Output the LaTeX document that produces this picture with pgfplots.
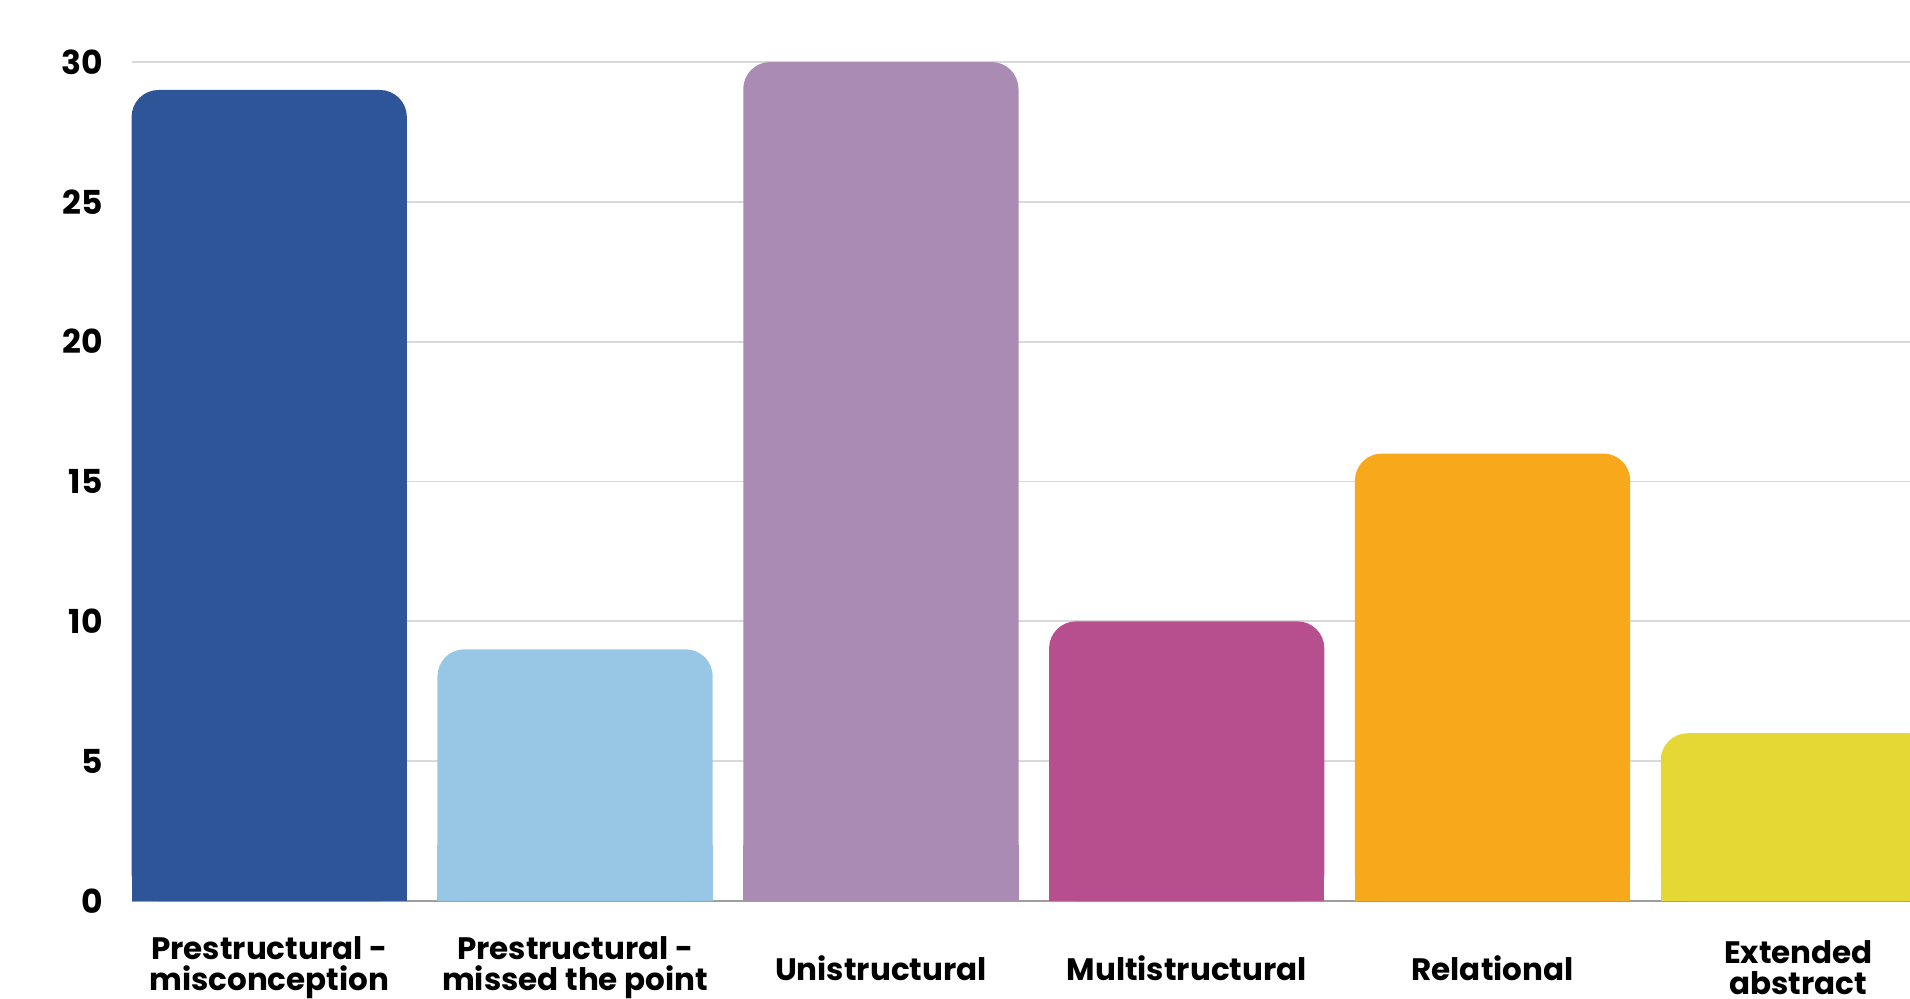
\documentclass[border=0pt]{standalone}
\usepackage{fontspec}
\setmainfont{Poppins}
\usepackage{pgfplots}
\pgfplotsset{compat=1.18}
\definecolor{cA}{HTML}{2E5597}
\definecolor{cB}{HTML}{98C7E5}
\definecolor{cC}{HTML}{AA8BB3}
\definecolor{cD}{HTML}{B74F8F}
\definecolor{cE}{HTML}{F8A81B}
\definecolor{cF}{HTML}{E6D834}
\begin{document}
\begin{tikzpicture}
\begin{axis}[
  scale only axis, width=889.2pt, height=419.5pt,
  xmin=-0.45, xmax=5.365, ymin=0, ymax=30,
  axis x line*=bottom, axis y line*=left,
  y axis line style={draw=none},
  x axis line style={draw=black!38, line width=1.2pt},
  major tick length=0pt,
  ytick={0,5,10,15,20,25,30},
  xtick={0,1,2,3,4,5},
  xticklabels={{Prestructural -\\misconception},{Prestructural -\\missed the point},{Unistructural},{Multistructural},{Relational},{Extended\\abstract}},
  ymajorgrids, grid style={draw=black!15, line width=0.9pt},
  /pgf/number format/assume math mode=true,
  yticklabel style={font=\fontsize{16.5}{18}\selectfont\bfseries, anchor=east, xshift=-14.3pt, inner sep=0pt},
  xticklabel style={font=\fontsize{15.5}{15.6}\selectfont\bfseries, align=center, anchor=center, yshift=-33.5pt, inner sep=0pt},
  clip=true,
]
\addplot[ybar, bar width=0.9, bar shift=0pt, fill=cA, draw=none, rounded corners=13.5pt] coordinates {(0,29)};
\addplot[ybar, bar width=0.9, bar shift=0pt, fill=cA, draw=none] coordinates {(0,2)};
\addplot[ybar, bar width=0.9, bar shift=0pt, fill=cB, draw=none, rounded corners=13.5pt] coordinates {(1,9)};
\addplot[ybar, bar width=0.9, bar shift=0pt, fill=cB, draw=none] coordinates {(1,2)};
\addplot[ybar, bar width=0.9, bar shift=0pt, fill=cC, draw=none, rounded corners=13.5pt] coordinates {(2,30)};
\addplot[ybar, bar width=0.9, bar shift=0pt, fill=cC, draw=none] coordinates {(2,2)};
\addplot[ybar, bar width=0.9, bar shift=0pt, fill=cD, draw=none, rounded corners=13.5pt] coordinates {(3,10)};
\addplot[ybar, bar width=0.9, bar shift=0pt, fill=cD, draw=none] coordinates {(3,2)};
\addplot[ybar, bar width=0.9, bar shift=0pt, fill=cE, draw=none, rounded corners=13.5pt] coordinates {(4,16)};
\addplot[ybar, bar width=0.9, bar shift=0pt, fill=cE, draw=none] coordinates {(4,2)};
\addplot[ybar, bar width=0.9, bar shift=0pt, fill=cF, draw=none, rounded corners=13.5pt] coordinates {(5,6)};
\addplot[ybar, bar width=0.9, bar shift=0pt, fill=cF, draw=none] coordinates {(5,2)};
\coordinate (O) at (rel axis cs:0,0);
\end{axis}
\pgfresetboundingbox
\path (O) ++(-65.8pt,-48.5pt) rectangle ++(955pt,499pt);
\end{tikzpicture}
\end{document}
